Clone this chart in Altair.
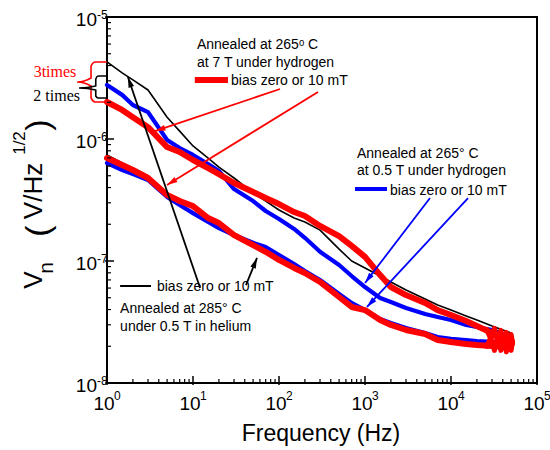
import math
import altair as alt
import pandas as pd

# ---------------- data ----------------
freq = [1, 1.5, 2, 3, 5, 7, 10, 15, 20, 30, 50, 70, 100, 150, 200, 300, 500, 700,
        1000, 1500, 2000, 3000, 5000, 7000, 1e4, 1.5e4, 2e4, 3e4, 5e4]

black_upper = [4.28e-6, 3.48e-6, 3.05e-6, 2.52e-6, 1.51e-6, 1.16e-6, 8.77e-7, 6.98e-7, 5.89e-7,
               4.79e-7, 3.61e-7, 3.10e-7, 2.62e-7, 2.25e-7, 2.09e-7, 1.79e-7, 1.25e-7, 1.00e-7,
               8.77e-8, 7.53e-8, 6.73e-8, 5.78e-8, 4.89e-8, 4.36e-8, 3.96e-8, 3.54e-8, 3.28e-8,
               2.93e-8, 2.57e-8]
blue_upper = [2.77e-6, 2.30e-6, 1.90e-6, 1.66e-6, 9.82e-7, 8.43e-7, 7.40e-7, 6.24e-7, 5.47e-7,
              3.89e-7, 3.10e-7, 2.57e-7, 2.21e-7, 1.83e-7, 1.55e-7, 1.19e-7, 9.27e-8, 7.53e-8,
              6.12e-8, 4.98e-8, 4.61e-8, 4.12e-8, 3.68e-8, 3.48e-8, 3.28e-8, 2.99e-8, 2.88e-8,
              2.72e-8, 2.38e-8]
red_upper = [2.01e-6, 1.73e-6, 1.51e-6, 1.25e-6, 8.59e-7, 7.82e-7, 6.73e-7, 5.78e-7, 5.16e-7,
             4.36e-7, 3.68e-7, 3.28e-7, 2.93e-7, 2.52e-7, 2.34e-7, 1.94e-7, 1.60e-7, 1.33e-7,
             1.08e-7, 7.67e-8, 6.12e-8, 5.26e-8, 4.53e-8, 3.96e-8, 3.61e-8, 3.22e-8, 2.93e-8,
             2.57e-8, 2.25e-8]
black_lower = [7.40e-7, 6.35e-7, 5.78e-7, 4.98e-7, 3.48e-7, 3.10e-7, 2.72e-7, 2.21e-7, 2.01e-7,
               1.70e-7, 1.41e-7, 1.23e-7, 1.06e-7, 9.10e-8, 8.13e-8, 6.85e-8, 5.16e-8, 4.36e-8,
               3.96e-8, 3.35e-8, 3.05e-8, 2.77e-8, 2.57e-8, 2.34e-8, 2.25e-8, 2.17e-8, 2.13e-8,
               2.09e-8, 2.05e-8]
blue_lower = [6.35e-7, 5.57e-7, 5.16e-7, 4.61e-7, 3.35e-7, 2.88e-7, 2.47e-7, 2.09e-7, 1.86e-7,
              1.63e-7, 1.41e-7, 1.30e-7, 1.12e-7, 9.44e-8, 8.28e-8, 6.98e-8, 5.37e-8, 4.53e-8,
              3.96e-8, 3.35e-8, 3.10e-8, 2.82e-8, 2.57e-8, 2.38e-8, 2.30e-8, 2.25e-8, 2.21e-8,
              2.17e-8, 2.13e-8]
red_lower = [6.98e-7, 6.12e-7, 5.57e-7, 4.79e-7, 3.48e-7, 3.10e-7, 2.82e-7, 2.25e-7, 2.05e-7,
             1.63e-7, 1.35e-7, 1.19e-7, 1.02e-7, 8.77e-8, 7.98e-8, 6.73e-8, 5.07e-8, 4.20e-8,
             3.96e-8, 3.28e-8, 2.99e-8, 2.72e-8, 2.52e-8, 2.25e-8, 2.17e-8, 2.09e-8, 2.05e-8,
             2.01e-8, 1.97e-8]

# the noisy band where both red spectra end (read as a zig-zag)
tail_f = [2.6e4, 2.9e4, 3.2e4, 3.5e4, 3.8e4, 4.1e4, 4.4e4, 4.7e4, 5.0e4, 5.2e4]
red_upper_tail = [2.75e-8, 2.3e-8, 2.8e-8, 2.15e-8, 2.7e-8, 2.0e-8, 2.6e-8, 1.95e-8, 2.5e-8, 2.1e-8]
red_lower_tail = [2.0e-8, 2.35e-8, 1.85e-8, 2.4e-8, 1.85e-8, 2.45e-8, 1.8e-8, 2.4e-8, 1.85e-8, 2.2e-8]

# annotation arrows (tail -> head), in data units
arrow_from_f = [102.8, 284, 5700, 15780, 12.1, 41.3]
arrow_from_v = [2.57e-6, 2.43e-6, 3.28e-7, 3.28e-7, 6.01e-8, 6.35e-8]
arrow_to_f = [3.61, 4.99, 1000, 1055, 1.75, 55.5]
arrow_to_v = [1.16e-6, 4.20e-7, 6.61e-8, 4.20e-8, 3.22e-6, 1.06e-7]
arrow_color = ["#ff0000", "#ff0000", "#0000ff", "#0000ff", "#000000", "#000000"]

# braces at the left edge
brace_red_f = [1, 0.725, 0.652, 0.652, 0.45, 0.652, 0.652, 0.725, 1]
brace_red_v = [4.28e-6, 4.28e-6, 3.96e-6, 3.16e-6, 2.93e-6, 2.72e-6, 2.17e-6, 2.01e-6, 2.01e-6]
brace_blk_f = [1, 0.79, 0.74, 0.74, 0.473, 0.74, 0.74, 0.79, 1]
brace_blk_v = [3.28e-6, 3.28e-6, 3.10e-6, 2.72e-6, 2.62e-6, 2.52e-6, 2.25e-6, 2.17e-6, 2.17e-6]

x_major = [1, 10, 100, 1000, 1e4, 1e5]
x_major_exp = ["0", "1", "2", "3", "4", "5"]
y_major = [1e-8, 1e-7, 1e-6, 1e-5]
y_major_exp = ["-8", "-7", "-6", "-5"]

# ---------------- chart ----------------
W, H = 430, 366
FONT = "Liberation Sans"
xs = alt.Scale(type="log", domain=[1, 1e5], nice=False)
ys = alt.Scale(type="log", domain=[1e-8, 1e-5], nice=False)


def X(field):
    return alt.X(f"{field}:Q", scale=xs, axis=None)


def Y(field):
    return alt.Y(f"{field}:Q", scale=ys, axis=None)


def curve(fs, vals, color, width):
    df = pd.DataFrame({"f": fs, "v": vals})
    return alt.Chart(df).mark_line(color=color, strokeWidth=width, strokeJoin="round",
                                   strokeCap="round").encode(X("f"), Y("v"))


layers = []
layers.append(curve(freq, black_upper, "#000000", 1.6))
layers.append(curve(freq, black_lower, "#000000", 1.6))
layers.append(curve(freq, blue_upper, "#0000ff", 4.2))
layers.append(curve(freq, blue_lower, "#0000ff", 4.2))
layers.append(curve(freq, red_upper, "#ff0000", 6))
layers.append(curve(freq, red_lower, "#ff0000", 6))
layers.append(curve(tail_f, red_upper_tail, "#ff0000", 5))
layers.append(curve(tail_f, red_lower_tail, "#ff0000", 5))


def px(f):
    return W * math.log10(f) / 5.0


def py(v):
    return H * (1 - (math.log10(v) + 8) / 3.0)


angles = []
for f1, v1, f2, v2 in zip(arrow_from_f, arrow_from_v, arrow_to_f, arrow_to_v):
    dx = px(f2) - px(f1)
    dy = py(v2) - py(v1)
    angles.append(math.degrees(math.atan2(dx, -dy)) % 360)

arr = pd.DataFrame({"f1": arrow_from_f, "v1": arrow_from_v, "f2": arrow_to_f,
                    "v2": arrow_to_v, "c": arrow_color, "ang": angles})
layers.append(alt.Chart(arr).mark_rule(strokeWidth=1.8).encode(
    X("f1"), Y("v1"), x2="f2:Q", y2="v2:Q", color=alt.Color("c:N", scale=None)))
layers.append(alt.Chart(arr).mark_point(
    shape="M0,0 L0.55,2 L-0.55,2 Z", filled=True, size=110, opacity=1, strokeWidth=0).encode(
    x=alt.X("f2:Q", scale=xs, axis=None), y=alt.Y("v2:Q", scale=ys, axis=None),
    color=alt.Color("c:N", scale=None), angle=alt.Angle("ang:Q", scale=None)))

# braces
for bf, bv, col in [(brace_red_f, brace_red_v, "#ff0000"), (brace_blk_f, brace_blk_v, "#000000")]:
    bd = pd.DataFrame({"f": bf, "v": bv, "i": list(range(len(bf)))})
    layers.append(alt.Chart(bd).mark_line(color=col, strokeWidth=1.6, interpolate="monotone").encode(
        X("f"), Y("v"), order="i:Q"))


def text(f, v, s, size=14, color="black", align="left", font=FONT):
    d = pd.DataFrame({"f": [f], "v": [v], "t": [s]})
    return alt.Chart(d).mark_text(align=align, baseline="alphabetic", fontSize=size,
                                  color=color, font=font).encode(X("f"), Y("v"), text="t:N")


def seg(f1, f2, v, color, width):
    d = pd.DataFrame({"f": [f1, f2], "v": [v, v]})
    return alt.Chart(d).mark_line(color=color, strokeWidth=width).encode(X("f"), Y("v"))


# brace labels
layers.append(text(0.44, 3.22e-6, "3times", 16, "#ff0000", "right", "Liberation Serif"))
layers.append(text(0.485, 2.05e-6, "2 times", 16, "#000000", "right", "Liberation Serif"))

# annotation group 1 (red, 7 T)
layers.append(text(11.1, 5.47e-6, "Annealed  at 265\u1d52 C"))
layers.append(text(11.1, 3.89e-6, "at 7 T under hydrogen"))
layers.append(seg(10.5, 25.5, 3.05e-6, "#ff0000", 6))
layers.append(text(27.7, 2.77e-6, "bias zero or 10 mT"))
# annotation group 2 (blue, 0.5 T)
layers.append(text(807, 6.98e-7, "Annealed at 265\u00b0 C"))
layers.append(text(807, 5.07e-7, "at 0.5 T under hydrogen"))
layers.append(seg(765, 1803, 3.89e-7, "#0000ff", 4))
layers.append(text(1954, 3.48e-7, "bias zero or 10 mT"))
# annotation group 3 (black, helium)
layers.append(seg(1.42, 3.25, 6.24e-8, "#000000", 2))
layers.append(text(3.81, 5.68e-8, "bias zero or 10 mT"))
layers.append(text(1.42, 3.75e-8, "Annealed at 285\u00b0 C"))
layers.append(text(1.42, 2.67e-8, "under 0.5 T in helium"))

# ticks (inward)
x_minor = [m * 10 ** e for e in range(0, 5) for m in range(2, 10)]
y_minor = [m * 10.0 ** e for e in range(-8, -5) for m in range(2, 10)]
xmaj = pd.DataFrame({"f": x_major, "e": x_major_exp})
ymaj = pd.DataFrame({"v": y_major, "e": y_major_exp})
layers.append(alt.Chart(xmaj).mark_rule(color="black", strokeWidth=1.5).encode(
    X("f"), y=alt.value(H + 2), y2=alt.value(H - 7)))
layers.append(alt.Chart(pd.DataFrame({"f": x_minor})).mark_rule(color="black", strokeWidth=1.2).encode(
    X("f"), y=alt.value(H), y2=alt.value(H - 4)))
layers.append(alt.Chart(ymaj).mark_rule(color="black", strokeWidth=1.5).encode(
    Y("v"), x=alt.value(-2), x2=alt.value(7)))
layers.append(alt.Chart(pd.DataFrame({"v": y_minor})).mark_rule(color="black", strokeWidth=1.2).encode(
    Y("v"), x=alt.value(0), x2=alt.value(4)))

# tick labels with superscripts
layers.append(alt.Chart(xmaj).mark_text(align="center", baseline="alphabetic", fontSize=19,
                                        font=FONT, dx=-3).encode(X("f"), y=alt.value(H + 27), text=alt.value("10")))
layers.append(alt.Chart(xmaj).mark_text(align="left", baseline="alphabetic", fontSize=12,
                                        font=FONT, dx=7).encode(X("f"), y=alt.value(H + 17), text="e:N"))
layers.append(alt.Chart(ymaj).mark_text(align="right", baseline="alphabetic", fontSize=19,
                                        font=FONT, dy=9).encode(Y("v"), x=alt.value(-10), text=alt.value("10")))
layers.append(alt.Chart(ymaj).mark_text(align="left", baseline="alphabetic", fontSize=12,
                                        font=FONT, dy=2).encode(Y("v"), x=alt.value(-10), text="e:N"))

# axis titles
layers.append(alt.Chart(pd.DataFrame({"t": ["Frequency (Hz)"]})).mark_text(
    align="center", baseline="alphabetic", fontSize=23, font=FONT).encode(
    x=alt.value(W / 2 - 1), y=alt.value(H + 58), text="t:N"))

ytitle = [("V", -73, 263, 26), ("n", -60, 251, 21), ("(", -68, 214, 34),
          ("V/Hz", -73, 174, 26), ("1/2", -87, 126, 17), (")", -68, 108, 34)]
for s, xv, yv, fs in ytitle:
    layers.append(alt.Chart(pd.DataFrame({"t": [s]})).mark_text(
        align="center", baseline="middle", fontSize=fs, font=FONT, angle=270).encode(
        x=alt.value(xv), y=alt.value(yv), text="t:N"))

chart = alt.layer(*layers).properties(
    width=W, height=H,
    autosize=alt.AutoSizeParams(type="none"),
    padding={"left": 107, "top": 17, "right": 13, "bottom": 67},
).configure_view(stroke="black", strokeWidth=2)

chart.save("out.html", embed_options={"renderer": "svg", "actions": False})
